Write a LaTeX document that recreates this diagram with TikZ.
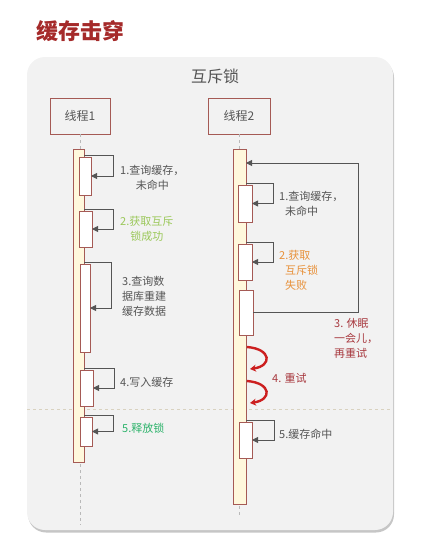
\documentclass[tikz,border=0pt]{standalone}
\usepackage{fontspec}
\newfontfamily\cjk{Noto Sans CJK SC}
\usepackage{tikz}
\usetikzlibrary{arrows.meta,positioning,calc,shadows}
\definecolor{titlered}{HTML}{A52A2A}
\definecolor{lkred}{HTML}{A55A55}
\definecolor{panelbg}{HTML}{F2F2F2}
\definecolor{barfill}{HTML}{FFF8DC}
\definecolor{txtgray}{HTML}{555555}
\definecolor{okgreen}{HTML}{9BC85A}
\definecolor{relgreen}{HTML}{2DB36B}
\definecolor{failorange}{HTML}{E8913A}
\definecolor{sleepred}{HTML}{A8393F}
\definecolor{retryred}{HTML}{CC1F1F}
\definecolor{sepbeige}{HTML}{D9D2C0}
\tikzset{
  thbox/.style={draw=lkred, line width=0.9pt, fill=panelbg, minimum width=60pt, minimum height=36pt, inner sep=0pt, text=txtgray, font=\cjk\fontsize{12}{14}\selectfont},
  actbar/.style={draw=lkred, line width=0.8pt, fill=barfill, anchor=north west, inner sep=0pt, outer sep=0pt},
  subbar/.style={draw=lkred, line width=0.8pt, fill=white, anchor=north west, inner sep=0pt, outer sep=0pt},
  selfline/.style={draw=txtgray, line width=0.9pt, -{Triangle[length=6pt,width=6pt]}},
  lifeln/.style={draw=gray!55, dashed, line width=0.7pt},
  sepln/.style={draw=sepbeige, dashed, line width=0.8pt},
  lbl/.style={anchor=west, inner sep=0pt, align=left, text=txtgray, font=\cjk\fontsize{11}{15}\selectfont},
  retry/.style={draw=retryred, line width=2.4pt, -{Stealth[length=6pt,width=7pt]}}
}

\begin{document}
\begin{tikzpicture}[x=1pt, y=-1pt, font=\cjk]
  \useasboundingbox (0,0) rectangle (438,546);
  \path[fill=panelbg, rounded corners=18pt, drop shadow={shadow xshift=1pt, shadow yshift=-2.5pt, opacity=0.45}] (27,57) rectangle (393,530);

  \node[anchor=west, inner sep=0pt, text=titlered, font=\cjk\bfseries\fontsize{22}{26}\selectfont] (title) at (36,31) {缓存击穿};
  \node[text=txtgray, font=\cjk\fontsize{16}{18}\selectfont] (lock) at (215,76) {互斥锁};

  \node[thbox] (t1) at (80,116) {线程1};
  \node[thbox, minimum width=62pt] (t2) at (239,116) {线程2};

  % lifelines and divider
  \coordinate (end1) at (80,525);
  \coordinate (end2) at (239,517);
  \draw[lifeln] (t1.south) -- (end1);
  \draw[lifeln] (t2.south) -- (end2);
  \coordinate (sepl) at (27,409);
  \coordinate (sepr) at (393,409);
  \draw[sepln] (sepl) -- (sepr);

  % thread 1
  \node[actbar, minimum width=11pt, minimum height=313pt] (bar1) at (73,149) {};
  \node[subbar, minimum width=12pt, minimum height=38pt] (s11) at (79,157) {};
  \node[subbar, minimum width=13pt, minimum height=36pt] (s12) at (79,211) {};
  \node[subbar, minimum width=10pt, minimum height=88pt] (s13) at (80,264) {};
  \node[subbar, minimum width=13pt, minimum height=36pt] (s14) at (80,370) {};
  \node[subbar, minimum width=12pt, minimum height=29pt] (s15) at (80,417) {};

  \draw[selfline] ([yshift=2pt]s11.north -| bar1.east) -- ++(29,0) |- (s11.east);
  \draw[selfline] ([yshift=2pt]s12.north -| bar1.east) -- ++(29,0) |- (s12.east);
  \draw[selfline] ([yshift=2pt]s13.north -| bar1.east) -- ++(27,0) |- (s13.east);
  \draw[selfline] ([yshift=2pt]s14.north -| bar1.east) -- ++(30,0) |- (s14.east);
  \draw[selfline] ([yshift=2pt]s15.north -| bar1.east) -- ++(29,0) |- (s15.east);

  \node[lbl, align=center] (q1) at (120,178) {1.查询缓存，\\未命中};
  \node[lbl, align=center, text=okgreen] (g1) at (120,229) {2.获取互斥\\锁成功};
  \node[lbl] (r1) at (122,296) {3.查询数\\据库重建\\缓存数据};
  \node[lbl] (w1) at (120,382) {4.写入缓存};
  \node[lbl, text=relgreen] (f1) at (122,428) {5.释放锁};

  % thread 2
  \node[actbar, minimum width=13pt, minimum height=355pt] (bar2) at (233,149) {};
  \node[subbar, minimum width=14pt, minimum height=37pt] (s21) at (238,185) {};
  \node[subbar, minimum width=14pt, minimum height=36pt] (s22) at (238,244) {};
  \node[subbar, minimum width=14pt, minimum height=45pt] (s23) at (239,290) {};
  \node[subbar, minimum width=13pt, minimum height=36pt] (s25) at (239,422) {};

  \draw[selfline] ([yshift=2pt]s21.north -| bar2.east) -- ++(27,0) |- (s21.east);
  \draw[selfline] ([yshift=2pt]s22.north -| bar2.east) -- ++(27,0) |- (s22.east);
  \draw[selfline] ([yshift=2pt]s25.north -| bar2.east) -- ++(28,0) |- (s25.east);
  \coordinate (wake) at (358,163);
  \draw[selfline] (s23.east) -| (wake) -- (wake -| bar2.east);

  \coordinate (ra1) at (247,347);
  \coordinate (rb1) at (250,369);
  \coordinate (ra2) at (247,381);
  \coordinate (rb2) at (250,403);
  \draw[retry] (ra1) .. controls (272,349) and (272,366) .. (rb1);
  \draw[retry] (ra2) .. controls (272,383) and (272,400) .. (rb2);

  \node[lbl] (q2) at (279,204) {1.查询缓存，\\\hspace{6pt}未命中};
  \node[lbl, text=failorange] (g2) at (279,270) {2.获取\\\hspace{6pt}互斥锁\\\hspace{6pt}失败};
  \node[lbl, text=sleepred] (z2) at (334,338) {3. 休眠\\一会儿，\\再重试};
  \node[lbl, text=sleepred] (y2) at (272,378) {4. 重试};
  \node[lbl] (h2) at (279,434) {5.缓存命中};
\end{tikzpicture}
\end{document}
